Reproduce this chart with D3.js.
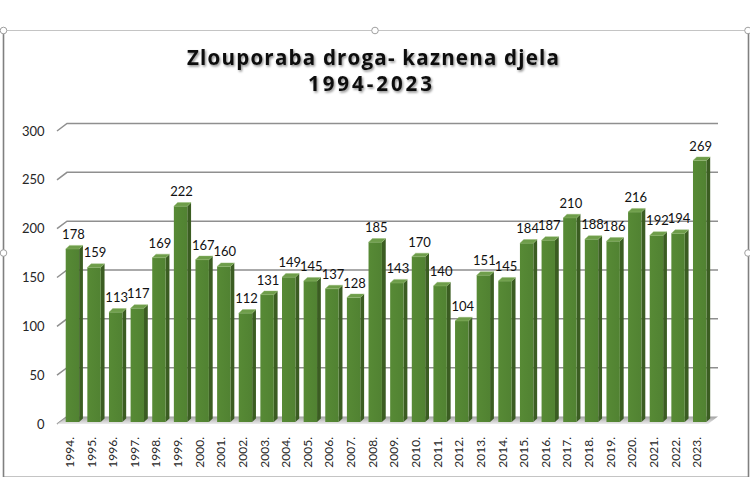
<!DOCTYPE html>
<html>
<head>
<meta charset="utf-8">
<script src="https://cdn.jsdelivr.net/npm/d3@7"></script>
<style>
  html, body { margin: 0; padding: 0; background: #fff; }
  svg { display: block; }
</style>
</head>
<body>
<svg id="chart" width="750" height="500"></svg>
<script>
const titleLines = ["Zlouporaba droga- kaznena djela", "1994-2023"];
const years = ["1994.","1995.","1996.","1997.","1998.","1999.","2000.","2001.","2002.","2003.",
  "2004.","2005.","2006.","2007.","2008.","2009.","2010.","2011.","2012.","2013.",
  "2014.","2015.","2016.","2017.","2018.","2019.","2020.","2021.","2022.","2023."];
const values = [178,159,113,117,169,222,167,160,112,131,
  149,145,137,128,185,143,170,140,104,151,
  145,184,187,210,188,186,216,192,194,269];
const yTicks = [0,50,100,150,200,250,300];

const svg = d3.select("#chart");
const defs = svg.append("defs");
const f = defs.append("filter").attr("id","tshadow").attr("x","-10%").attr("y","-30%").attr("width","120%").attr("height","160%");
f.append("feDropShadow").attr("dx",1.2).attr("dy",1.6).attr("stdDeviation",1.1)
  .attr("flood-color","#000").attr("flood-opacity",0.45);
const fg = defs.append("linearGradient").attr("id","floorGrad").attr("x1",0).attr("y1",0).attr("x2",0).attr("y2",1);
fg.append("stop").attr("offset","0%").attr("stop-color","#8a8a8a");
fg.append("stop").attr("offset","100%").attr("stop-color","#e6e6e6");
const frontGrad = defs.append("linearGradient").attr("id","frontGrad").attr("x1",0).attr("y1",0).attr("x2",1).attr("y2",0);
frontGrad.append("stop").attr("offset","0%").attr("stop-color","#578a35");
frontGrad.append("stop").attr("offset","100%").attr("stop-color","#518232");

// frame
const frame = svg.append("g");
frame.append("line").attr("x1",3).attr("x2",748).attr("y1",30.5).attr("y2",30.5).attr("stroke","#c4c4c4").attr("stroke-width",1.2);
frame.append("line").attr("x1",3).attr("x2",748).attr("y1",476.5).attr("y2",476.5).attr("stroke","#c4c4c4").attr("stroke-width",1.2);
frame.append("line").attr("x1",3.5).attr("x2",3.5).attr("y1",30).attr("y2",477).attr("stroke","#808080").attr("stroke-width",1.6);
frame.append("line").attr("x1",748.5).attr("x2",748.5).attr("y1",30).attr("y2",477).attr("stroke","#808080").attr("stroke-width",1.6);
[[3.5,30.5],[375,30.5],[748,30.5],[3.5,253],[748,253]].forEach(p => {
  frame.append("circle").attr("cx",p[0]).attr("cy",p[1]).attr("r",3.3)
    .attr("fill","#fff").attr("stroke","#a0a0a0").attr("stroke-width",1);
});

// title
const title = svg.append("text").attr("text-anchor","middle")
  .attr("font-family","'Open Sans', sans-serif").attr("font-weight","bold")
  .attr("font-size",20.5).attr("fill","#0d0d0d").attr("filter","url(#tshadow)");
title.append("tspan").attr("x",373).attr("y",64.5).attr("textLength",372).attr("lengthAdjust","spacing").text(titleLines[0]);
title.append("tspan").attr("x",370).attr("y",90.5).attr("textLength",124).attr("lengthAdjust","spacing").text(titleLines[1]);

// scales
const dx = 10, dy = -7.5;       // depth of the plot
const x = d3.scaleBand().domain(years).range([61.6, 710.5]).paddingInner(0.38).paddingOuter(0.19);
const yFront = d3.scaleLinear().domain([0,300]).range([424,131]);
const yBar = d3.scaleLinear().domain([0,300]).range([422,130.4]);
const xLeft = 57, xRight = 708;

// gridlines
const grid = svg.append("g");
yTicks.forEach(t => {
  const yf = yFront(t);
  if (t > 0) {
    grid.append("polyline")
      .attr("points", `${xLeft},${yf} ${xLeft+dx},${yf+dy} ${xRight+dx},${yf+dy}`)
      .attr("fill","none").attr("stroke","#8f8f8f").attr("stroke-width",1.5);
  } else {
    grid.append("line").attr("x1",xLeft).attr("y1",yf).attr("x2",xLeft+dx).attr("y2",yf+dy)
      .attr("stroke","#8f8f8f").attr("stroke-width",1.5);
  }
});
// floor
svg.append("polygon")
  .attr("points", `${xLeft},${yFront(0)} ${xRight},${yFront(0)} ${xRight+dx},${yFront(0)+dy} ${xLeft+dx},${yFront(0)+dy}`)
  .attr("fill","url(#floorGrad)").attr("opacity",0.8);

// y tick labels
svg.append("g").selectAll("text").data(yTicks).join("text")
  .attr("x",44.5).attr("y",d => yFront(d)).attr("dy","0.35em")
  .attr("text-anchor","end").attr("font-family","Lato, sans-serif").attr("font-size",13)
  .attr("fill","#262626").text(d => d);

// bars
const bdx = 3.8, bdy = -3.6;
const bars = svg.append("g").selectAll("g").data(values).join("g");
bars.each(function(v, i) {
  const g = d3.select(this);
  const x0 = x(years[i]), w = x.bandwidth();
  const yt = yBar(v), yb = yBar(0);
  g.append("polygon").attr("points",
    `${x0+w},${yt} ${x0+w+bdx},${yt+bdy} ${x0+w+bdx},${yb+bdy} ${x0+w},${yb}`)
    .attr("fill","#3b5d22");
  g.append("rect").attr("x",x0).attr("y",yt).attr("width",w).attr("height",yb-yt)
    .attr("fill","url(#frontGrad)");
  g.append("polygon").attr("points",
    `${x0},${yt} ${x0+w},${yt} ${x0+w+bdx},${yt+bdy} ${x0+bdx},${yt+bdy}`)
    .attr("fill","#6e9d4a").attr("stroke","#8fb86c").attr("stroke-width",0.4);
});

// value labels
svg.append("g").selectAll("text").data(values).join("text")
  .attr("x",(d,i) => x(years[i]) + x.bandwidth()/2 + 1)
  .attr("y",d => yBar(d) - 10)
  .attr("text-anchor","middle").attr("font-family","Lato, sans-serif").attr("font-size",13)
  .attr("fill","#111").text(d => d);

// x labels
svg.append("g").selectAll("text").data(years).join("text")
  .attr("transform",d => `translate(${x(d) + x.bandwidth()/2 + 1.5},437) rotate(-90)`)
  .attr("text-anchor","end").attr("font-family","Lato, sans-serif").attr("font-size",12)
  .attr("fill","#262626").text(d => d);
</script>
</body>
</html>
